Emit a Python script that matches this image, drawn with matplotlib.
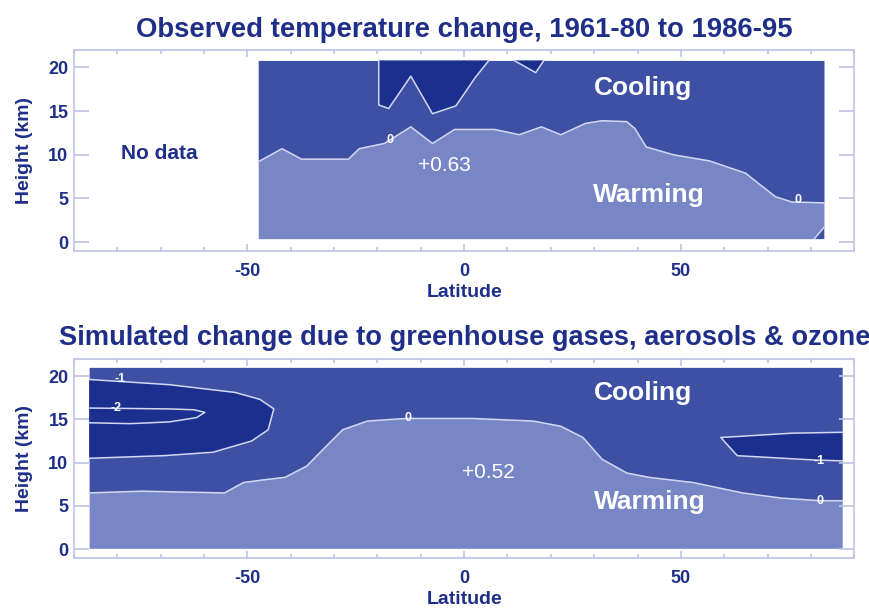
import matplotlib.pyplot as plt
from matplotlib.ticker import MultipleLocator

plt.rcParams['font.family'] = ['Liberation Sans Narrow', 'Liberation Sans', 'DejaVu Sans']
plt.rcParams['axes.unicode_minus'] = False

# --- observed 1961-80 to 1986-95 ---
obs_lat = [-47.5, -42, -37.5, -26.7, -24.2, -18.4, -12.3, -7.3, -2.2, 7, 12.7, 17.8,
           22.3, 28, 31.8, 37.5, 39.4, 42, 48.3, 56.6, 64.9, 71.8, 75.6, 83]
obs_zero = [9.2, 10.7, 9.5, 9.5, 10.7, 11.3, 13.2, 11.3, 12.9, 12.9, 12.3, 13.2,
            12.3, 13.6, 13.9, 13.8, 13.0, 10.9, 10.0, 9.3, 7.9, 5.2, 4.6, 4.5]
obs_bottom, obs_top = 0.4, 20.8

# strong cooling patches near the tropical tropopause
obs_cold1_lat = [-19.7, -19.7, -17.4, -12.3, -7.3, -1.9, 2.5, 5.7]
obs_cold1_h = [20.8, 15.7, 15.3, 19.0, 14.7, 15.6, 18.8, 20.8]
obs_cold2_lat = [11.5, 16.5, 18.4]
obs_cold2_h = [20.8, 19.4, 20.8]
obs_corner_lat = [80.8, 83, 83]
obs_corner_h = [0.4, 0.4, 1.7]

# --- simulated (greenhouse gases, aerosols, ozone) ---
sim_lat = [-86.5, -74.4, -55.3, -50.9, -46.4, -41.3, -36.3, -31.8, -28.0, -22.3, -13.4,
           1.9, 15.9, 22.3, 27.4, 31.8, 37.5, 42.6, 52.8, 64.2, 73.2, 82.1, 87.2]
sim_zero = [6.5, 6.7, 6.5, 7.7, 8.0, 8.3, 9.6, 11.9, 13.8, 14.8, 15.1,
            15.1, 14.8, 14.2, 12.9, 10.4, 8.8, 8.3, 7.7, 6.5, 5.9, 5.6, 5.6]
sim_bottom, sim_top = 0.1, 21.0

sim_m1_left_lat = [-86.5, -68, -52.8, -47.1, -43.9, -45.2, -49, -57.9, -69.3, -86.5]
sim_m1_left_h = [19.6, 19.0, 18.1, 17.3, 16.2, 13.8, 12.5, 11.2, 10.8, 10.5]
sim_m2_lat = [-86.5, -68, -62.3, -59.8, -61.7, -68, -77, -86.5]
sim_m2_h = [16.3, 16.2, 16.1, 15.8, 15.2, 14.7, 14.5, 14.6]
sim_m1_right_lat = [87.2, 75.7, 59.2, 63, 80.8, 87.2]
sim_m1_right_h = [13.5, 13.4, 12.9, 10.8, 10.3, 10.2]

warm = '#7886c6'
cool = '#3d50a4'
strong = '#1b2f8f'
edge = '#d3d8f0'
navy = '#1f2e88'
spine = '#bcc4e4'

fig = plt.figure(figsize=(8.7, 6.09), dpi=100)
ax1 = fig.add_axes([0.085, 0.588, 0.897, 0.330])
ax2 = fig.add_axes([0.085, 0.084, 0.897, 0.327])


def frame(ax):
    ax.set_xlim(-90, 90)
    ax.set_ylim(-1, 22)
    ax.set_xticks([-50, 0, 50])
    ax.set_yticks([0, 5, 10, 15, 20])
    ax.xaxis.set_minor_locator(MultipleLocator(10))
    for s in ax.spines.values():
        s.set_color(spine)
        s.set_linewidth(1.2)
    ax.tick_params(axis='both', which='both', direction='in', color=spine,
                   top=True, right=True, labelcolor=navy, labelsize=13, width=1.2)
    ax.tick_params(axis='y', which='major', length=11, pad=4)
    ax.tick_params(axis='x', which='major', length=5, pad=9)
    ax.tick_params(axis='x', which='minor', length=3)
    for lab in ax.get_xticklabels() + ax.get_yticklabels():
        lab.set_fontweight('bold')
    ax.set_xlabel('Latitude', fontsize=14, fontweight='bold', color=navy)
    ax.set_ylabel('Height (km)', fontsize=14, fontweight='bold', color=navy)
    ax.yaxis.set_label_coords(-0.053, 0.5)


def clabel(ax, x, y, s):
    ax.text(x, y, s, color='white', fontsize=9, fontweight='bold', ha='center', va='center')


# observed panel
ax1.fill_between(obs_lat, obs_bottom, obs_zero, color=warm, lw=0)
ax1.fill_between(obs_lat, obs_zero, obs_top, color=cool, lw=0)
ax1.fill(obs_cold1_lat, obs_cold1_h, color=strong, lw=0)
ax1.fill(obs_cold2_lat, obs_cold2_h, color=strong, lw=0)
ax1.fill(obs_corner_lat, obs_corner_h, color=cool, lw=0)
ax1.plot(obs_lat, obs_zero, color=edge, lw=1.1)
ax1.plot(obs_cold1_lat, obs_cold1_h, color=edge, lw=1.1)
ax1.plot(obs_cold2_lat, obs_cold2_h, color=edge, lw=1.1)
ax1.plot(obs_corner_lat[:1] + obs_corner_lat[2:], obs_corner_h[:1] + obs_corner_h[2:], color=edge, lw=1.1)
clabel(ax1, -17.2, 11.7, '0')
clabel(ax1, 77, 4.8, '0')
ax1.text(-4.5, 8.8, '+0.63', color='white', fontsize=15, ha='center', va='center')
ax1.text(41.3, 17.7, 'Cooling', color='white', fontsize=19, fontweight='bold', ha='center', va='center')
ax1.text(42.6, 5.4, 'Warming', color='white', fontsize=19, fontweight='bold', ha='center', va='center')
ax1.text(-70.2, 10.2, 'No data', color=navy, fontsize=15, fontweight='bold', ha='center', va='center')
frame(ax1)
ax1.xaxis.set_label_coords(0.5, -0.165)

# simulated panel
ax2.fill_between(sim_lat, sim_bottom, sim_zero, color=warm, lw=0)
ax2.fill_between(sim_lat, sim_zero, sim_top, color=cool, lw=0)
ax2.fill(sim_m1_left_lat, sim_m1_left_h, color=strong, lw=0)
ax2.fill(sim_m1_right_lat, sim_m1_right_h, color=strong, lw=0)
ax2.plot(sim_lat, sim_zero, color=edge, lw=1.1)
ax2.plot(sim_m1_left_lat, sim_m1_left_h, color=edge, lw=1.1)
ax2.plot(sim_m2_lat, sim_m2_h, color=edge, lw=1.1)
ax2.plot(sim_m1_right_lat, sim_m1_right_h, color=edge, lw=1.1)
clabel(ax2, -79.3, 19.6, '-1')
clabel(ax2, -80.2, 16.3, '-2')
clabel(ax2, -13, 15.1, '0')
clabel(ax2, 81.8, 10.2, '-1')
clabel(ax2, 82, 5.6, '0')
ax2.text(5.5, 8.8, '+0.52', color='white', fontsize=15, ha='center', va='center')
ax2.text(41.3, 18.0, 'Cooling', color='white', fontsize=19, fontweight='bold', ha='center', va='center')
ax2.text(42.9, 5.4, 'Warming', color='white', fontsize=19, fontweight='bold', ha='center', va='center')
frame(ax2)
ax2.xaxis.set_label_coords(0.5, -0.165)

fig.text(0.534, 0.951, 'Observed temperature change, 1961-80 to 1986-95',
         color=navy, fontsize=19.8, fontweight='bold', ha='center', va='center')
fig.text(0.534, 0.445, 'Simulated change due to greenhouse gases, aerosols & ozone',
         color=navy, fontsize=19.6, fontweight='bold', ha='center', va='center')

fig.savefig('out.png', dpi=100)
